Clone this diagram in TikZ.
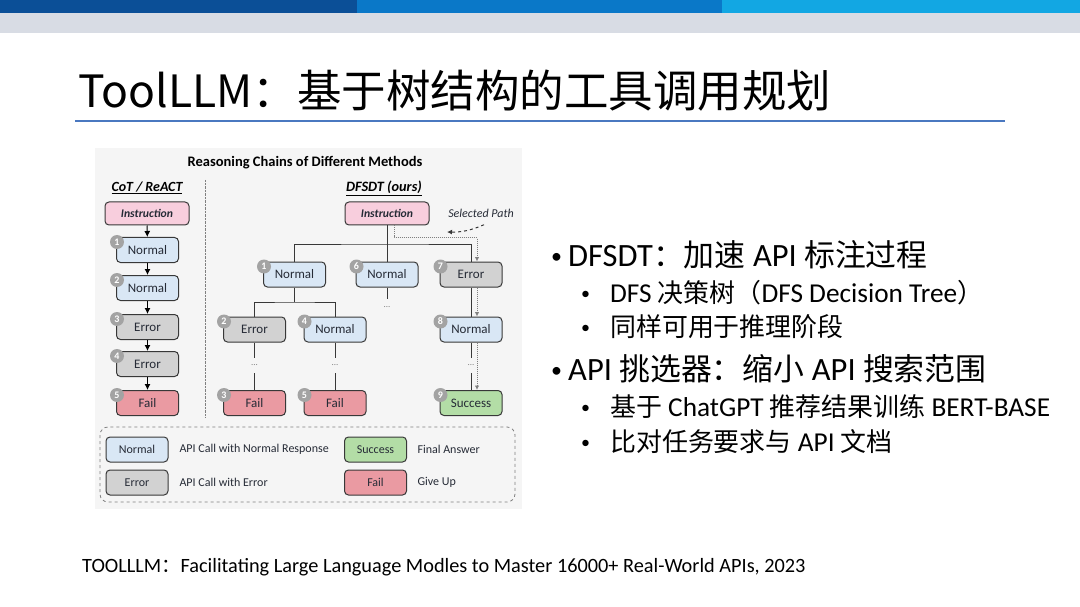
\documentclass[tikz,border=0pt]{standalone}
\usepackage{fontspec}
\setmainfont{Carlito}
\newfontfamily\cjkfont[Scale=0.95]{Noto Sans CJK SC}
\newfontfamily\titlefamily{Noto Sans CJK SC}
\newcommand{\zh}[1]{{\cjkfont #1}}
\newcommand{\bigdot}{\makebox[17pt][l]{\raisebox{3pt}{\fontsize{22}{22}\selectfont•}}}
\newcommand{\smalldot}{\makebox[29pt][l]{\raisebox{3pt}{\fontsize{18}{18}\selectfont•}}}
\usetikzlibrary{arrows.meta}

\definecolor{topdark}{HTML}{0B4F97}
\definecolor{topmid}{HTML}{0A78C8}
\definecolor{toplight}{HTML}{12A7E3}
\definecolor{topgrey}{HTML}{D8DCE4}
\definecolor{ruleblue}{HTML}{4A78C0}
\definecolor{diagbg}{HTML}{F5F5F5}
\definecolor{boxline}{HTML}{383838}
\definecolor{boxtext}{HTML}{262B36}
\definecolor{normalfill}{HTML}{D9E7F5}
\definecolor{errorfill}{HTML}{D2D2D2}
\definecolor{failfill}{HTML}{EA9AA2}
\definecolor{successfill}{HTML}{B3DDA6}
\definecolor{instrfill}{HTML}{F8CEDD}
\definecolor{numgrey}{HTML}{A3A3A3}

\tikzset{
  box/.style={draw=boxline, rounded corners=4pt, line width=1pt, minimum width=62pt,
    minimum height=25pt, inner sep=0pt, text=boxtext, font=\fontsize{13}{13}\selectfont},
  normalbox/.style={box, fill=normalfill},
  errorbox/.style={box, fill=errorfill},
  failbox/.style={box, fill=failfill},
  successbox/.style={box, fill=successfill},
  instrbox/.style={box, fill=instrfill, minimum width=84pt, minimum height=23pt,
    font=\bfseries\itshape\fontsize{11.7}{11.7}\selectfont},
  num/.style={circle, fill=numgrey, text=white, inner sep=0pt, minimum size=14pt,
    font=\bfseries\fontsize{10}{10}\selectfont},
  dots/.style={inner sep=0pt, minimum height=15pt, text=gray, font=\fontsize{9}{9}\selectfont},
  link/.style={line width=1pt, draw=boxline},
  chain/.style={link, draw=black, -{Latex[length=6pt,width=6pt]}},
  selpath/.style={densely dotted, line width=1pt, draw=gray, -{Latex[length=4.5pt,width=4.5pt]}},
  legendtext/.style={anchor=west, text=boxtext, font=\fontsize{12}{12}\selectfont},
  lvlone/.style={anchor=base west, inner sep=0pt, font=\fontsize{32.5}{32.5}\selectfont},
  lvltwo/.style={anchor=base west, inner sep=0pt, font=\fontsize{27.3}{27.3}\selectfont},
}
\newcommand{\numtag}[3]{\node[num] (#1) at ([xshift=1pt,yshift=-5pt]#2.north west) {#3};}

\begin{document}
\begin{tikzpicture}[x=1pt, y=-1pt]
  \useasboundingbox (0,0) rectangle (1080,607);
  \fill[white] (0,0) rectangle (1080,607);

  % Header bars
  \fill[topdark] (0,0) rectangle (357,13);
  \fill[topmid] (357,0) rectangle (722,13);
  \fill[toplight] (722,0) rectangle (1080,13);
  \fill[topgrey] (0,13) rectangle (1080,33);

  % Title
  \node[anchor=west, inner sep=0pt, font=\titlefamily\fontsize{44.5}{44.5}\selectfont] (title) at (78,91)
    {ToolLLM：基于树结构的工具调用规划};
  \draw[ruleblue, line width=2.5pt] (75,121) -- (1005,121);

  % Diagram background
  \fill[diagbg] (95,148) rectangle (522,509);
  \node[font=\bfseries\fontsize{14.5}{14.5}\selectfont] (head) at (305,163) {Reasoning Chains of Different Methods};
  \draw[densely dotted, gray] (205,180) -- (205,417);

  % Left chain
  \node[font=\bfseries\itshape\fontsize{14}{14}\selectfont] (cot) at (147,188) {\underline{CoT / ReACT}};
  \node[instrbox] (li) at (147,213.5) {Instruction};
  \node[normalbox] (l1) at (147.5,250) {Normal};
  \node[normalbox] (l2) at (147.5,288) {Normal};
  \node[errorbox] (l3) at (147.5,327) {Error};
  \node[errorbox] (l4) at (147.5,364) {Error};
  \node[failbox] (l5) at (147.5,403) {Fail};
  \draw[chain] (li) -- (l1);
  \draw[chain] (l1) -- (l2);
  \draw[chain] (l2) -- (l3);
  \draw[chain] (l3) -- (l4);
  \draw[chain] (l4) -- (l5);
  \numtag{tl1}{l1}{1}
  \numtag{tl2}{l2}{2}
  \numtag{tl3}{l3}{3}
  \numtag{tl4}{l4}{4}
  \numtag{tl5}{l5}{5}

  % DFSDT tree
  \node[font=\bfseries\itshape\fontsize{14.3}{14.3}\selectfont] (dfs) at (384,188) {\underline{DFSDT (ours)}};
  \node[instrbox] (ri) at (387,213.5) {Instruction};

  % First branch level
  \node[normalbox] (r1) at (294.5,274.5) {Normal};
  \node[normalbox] (r6) at (387,274.5) {Normal};
  \node[errorbox] (r7) at (471,274.5) {Error};
  \coordinate (top) at (387,244);
  \draw[link] (ri) -- (r6);
  \draw[link] (r1.north) |- (top) -| (r7.north);

  % Second branch level
  \node[errorbox] (r2) at (254.5,329.5) {Error};
  \node[normalbox] (r4) at (335,329.5) {Normal};
  \node[normalbox] (r8) at (471,329.5) {Normal};
  \coordinate (mid) at (294.5,302);
  \draw[link] (r1.south) -- (mid);
  \draw[link] (r2.north) |- (mid) -| (r4.north);
  \draw[link] (r7) -- (r8);

  % Leaves
  \node[failbox] (r3) at (254.5,403) {Fail};
  \node[failbox] (r5) at (335,403) {Fail};
  \node[successbox] (r9) at (471,403) {Success};
  \node[dots] (d2) at (254.5,365.5) {...};
  \node[dots] (d4) at (335,365.5) {...};
  \node[dots] (d6) at (387,307) {...};
  \node[dots] (d8) at (471,365.5) {...};
  \draw[link] (r2) -- (d2);
  \draw[link] (d2) -- (r3);
  \draw[link] (r4) -- (d4);
  \draw[link] (d4) -- (r5);
  \draw[link] (r6) -- (d6);
  \draw[link] (r8) -- (d8);
  \draw[link] (d8) -- (r9);

  \numtag{tr1}{r1}{1}
  \numtag{tr2}{r2}{2}
  \numtag{tr3}{r3}{3}
  \numtag{tr4}{r4}{4}
  \numtag{tr5}{r5}{5}
  \numtag{tr6}{r6}{6}
  \numtag{tr7}{r7}{7}
  \numtag{tr8}{r8}{8}
  \numtag{tr9}{r9}{9}

  % Selected path
  \coordinate (turn) at (477,238);
  \draw[selpath] ([xshift=7pt]ri.south) |- (turn) -- ([xshift=6pt]r7.north);
  \draw[selpath] ([xshift=6pt]r7.south) -- ([xshift=6pt]r8.north);
  \draw[selpath] ([xshift=6pt]r8.south) -- ([xshift=6pt]r9.north);
  \node[text=boxtext, font=\itshape\fontsize{12}{12}\selectfont] (sel) at (481,213) {Selected Path};
  \coordinate (selend) at (447,232);
  \draw[dashed, line width=1pt, draw=boxline, -{Latex[length=5pt,width=5pt]}]
    ([xshift=3pt,yshift=-4pt]sel.south) to[bend left=12] (selend);

  % Legend
  \draw[dashed, rounded corners=8pt, draw=gray, line width=0.8pt] (100,427) rectangle (515,502);
  \node[normalbox, font=\fontsize{12}{12}\selectfont] (kn) at (137,449.5) {Normal};
  \node[errorbox, font=\fontsize{12}{12}\selectfont] (ke) at (137,482.5) {Error};
  \node[successbox, font=\fontsize{12}{12}\selectfont] (ks) at (375.5,449.5) {Success};
  \node[failbox, font=\fontsize{12}{12}\selectfont] (kf) at (375.5,482.5) {Fail};
  \node[legendtext] (knt) at (176,449.5) {API Call with Normal Response};
  \node[legendtext] (ket) at (176,482.5) {API Call with Error};
  \node[legendtext] (kst) at (414,449.5) {Final Answer};
  \node[legendtext] (kft) at (414,482.5) {Give Up};

  % Bullets
  \node[lvlone] (b1) at (551,266) {\bigdot DFSDT\zh{：加速} API \zh{标注过程}};
  \node[lvltwo] (b2) at (581,302) {\smalldot DFS \zh{决策树（}DFS Decision Tree\zh{）}};
  \node[lvltwo] (b3) at (581,336) {\smalldot\zh{同样可用于推理阶段}};
  \node[lvlone] (b4) at (551,380) {\bigdot API \zh{挑选器：缩小} API \zh{搜索范围}};
  \node[lvltwo] (b5) at (581,416) {\smalldot\zh{基于} ChatGPT \zh{推荐结果训练} BERT-BASE};
  \node[lvltwo] (b6) at (581,451) {\smalldot\zh{比对任务要求与} API \zh{文档}};

  % Footer
  \node[anchor=west, inner sep=0pt, font=\fontsize{20.3}{20.3}\selectfont] (cite) at (82,567)
    {TOOLLLM\zh{：}Facilitating Large Language Modles to Master 16000+ Real-World APIs, 2023};
\end{tikzpicture}
\end{document}
